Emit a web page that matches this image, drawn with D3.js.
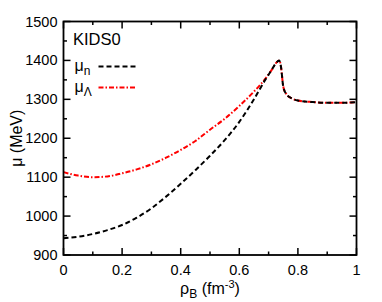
<!DOCTYPE html>
<html>
<head>
<meta charset="utf-8">
<script src="https://cdn.jsdelivr.net/npm/d3@7"></script>
<style>
  body { margin: 0; background: #fff; }
  text { font-family: "Liberation Sans", Arial, sans-serif; }
</style>
</head>
<body>
<div id="chart"></div>
<script>
// density rho_B (fm^-3) and chemical potentials (MeV)
const rhoN = [0, 0.05, 0.1, 0.15, 0.2, 0.25, 0.3, 0.35, 0.4, 0.45, 0.5, 0.55, 0.6, 0.65, 0.69, 0.71, 0.725, 0.736,
              0.742, 0.75, 0.76, 0.78, 0.8, 0.85, 0.9, 0.95, 1.0];
const muN = [943, 947, 954, 964, 977, 996, 1020, 1050, 1083, 1118, 1155, 1195, 1242, 1300, 1352, 1375, 1393, 1400,
             1385, 1333, 1314, 1302, 1297, 1293, 1291, 1291, 1293];

const rhoL = [0, 0.05, 0.1, 0.15, 0.2, 0.25, 0.3, 0.35, 0.4, 0.45, 0.5, 0.55, 0.6, 0.65, 0.69, 0.71, 0.725, 0.736,
              0.742, 0.75, 0.76, 0.78, 0.8, 0.85, 0.9, 0.95, 1.0];
const muL = [1113, 1104, 1100, 1102, 1110, 1120, 1133, 1150, 1170, 1193, 1222, 1250, 1283, 1320, 1354, 1375, 1393, 1400,
             1385, 1333, 1314, 1302, 1297, 1293, 1291, 1291, 1293];

const xTicks = [0, 0.2, 0.4, 0.6, 0.8, 1];
const yTicks = [900, 1000, 1100, 1200, 1300, 1400, 1500];

const W = 382, H = 302;
const margin = {top: 21.5, right: 25.5, bottom: 47, left: 63.5};
const width = W - margin.left - margin.right,
      height = H - margin.top - margin.bottom;

const svg = d3.select("#chart").append("svg")
    .attr("width", W).attr("height", H)
  .append("g")
    .attr("transform", `translate(${margin.left},${margin.top})`);

const x = d3.scaleLinear().domain([0, 1]).range([0, width]);
const y = d3.scaleLinear().domain([900, 1500]).range([height, 0]);

// minor + major ticks, pointing inwards on every side
const xMinor = d3.range(0, 1.0001, 0.1);
const yMinor = d3.range(900, 1501, 50);
const isMajX = v => Math.abs(Math.round(v * 5) - v * 5) < 1e-6;
const isMajY = v => v % 100 === 0;

const ticks = svg.append("g").attr("stroke", "#000").attr("stroke-width", 1.5);
xMinor.forEach(v => {
  const L = isMajX(v) ? 7 : 3.5;
  ticks.append("line").attr("x1", x(v)).attr("x2", x(v)).attr("y1", height).attr("y2", height - L);
  ticks.append("line").attr("x1", x(v)).attr("x2", x(v)).attr("y1", 0).attr("y2", L);
});
yMinor.forEach(v => {
  const L = isMajY(v) ? 7 : 3.5;
  ticks.append("line").attr("y1", y(v)).attr("y2", y(v)).attr("x1", 0).attr("x2", L);
  ticks.append("line").attr("y1", y(v)).attr("y2", y(v)).attr("x1", width).attr("x2", width - L);
});

// tick labels
svg.append("g").selectAll("text").data(xTicks).join("text")
    .attr("x", d => x(d)).attr("y", height + 20)
    .attr("text-anchor", "middle").attr("font-size", 14.5)
    .text(d => d3.format("~g")(d));
svg.append("g").selectAll("text").data(yTicks).join("text")
    .attr("x", -6).attr("y", d => y(d) + 5)
    .attr("text-anchor", "end").attr("font-size", 14.5)
    .text(d => d);

// curves
const line = d3.line().x(d => x(d[0])).y(d => y(d[1])).curve(d3.curveMonotoneX);
const nData = rhoN.map((r, i) => [r, muN[i]]);
const lData = rhoL.map((r, i) => [r, muL[i]]);

svg.append("path").datum(lData)
    .attr("d", line).attr("fill", "none")
    .attr("stroke", "#ff0000").attr("stroke-width", 2)
    .attr("stroke-dasharray", "5,2,1.5,2");
svg.append("path").datum(nData)
    .attr("d", line).attr("fill", "none")
    .attr("stroke", "#000").attr("stroke-width", 2)
    .attr("stroke-dasharray", "5,3");

// frame
svg.append("rect").attr("width", width).attr("height", height)
    .attr("fill", "none").attr("stroke", "#000").attr("stroke-width", 1.8);

// legend
svg.append("text").attr("x", 9.5).attr("y", 23).attr("font-size", 16.5).text("KIDS0");
const leg = [{lab: "n", col: "#000", dash: "5,3", yy: 45}, {lab: "\u039B", col: "#ff0000", dash: "5,2,1.5,2", yy: 66}];
leg.forEach(l => {
  const t = svg.append("text").attr("x", 11).attr("y", l.yy + 4).attr("font-size", 16);
  t.append("tspan").text("\u03BC");
  t.append("tspan").attr("font-size", 12).attr("dy", 4).text(l.lab);
  svg.append("line").attr("x1", 35).attr("x2", 73).attr("y1", l.yy).attr("y2", l.yy)
     .attr("stroke", l.col).attr("stroke-width", 2).attr("stroke-dasharray", l.dash);
});

// axis titles
const xt = svg.append("text").attr("x", width / 2).attr("y", height + 39)
    .attr("text-anchor", "middle").attr("font-size", 16);
xt.append("tspan").text("\u03C1");
xt.append("tspan").attr("font-size", 12).attr("dy", 4).text("B");
xt.append("tspan").attr("dy", -4).text(" (fm");
xt.append("tspan").attr("font-size", 11).attr("dy", -6).text("-3");
xt.append("tspan").attr("dy", 6).text(")");

svg.append("text")
    .attr("transform", `translate(${-42},${height / 2}) rotate(-90)`)
    .attr("text-anchor", "middle").attr("font-size", 16)
    .text("\u03BC (MeV)");
</script>
</body>
</html>
